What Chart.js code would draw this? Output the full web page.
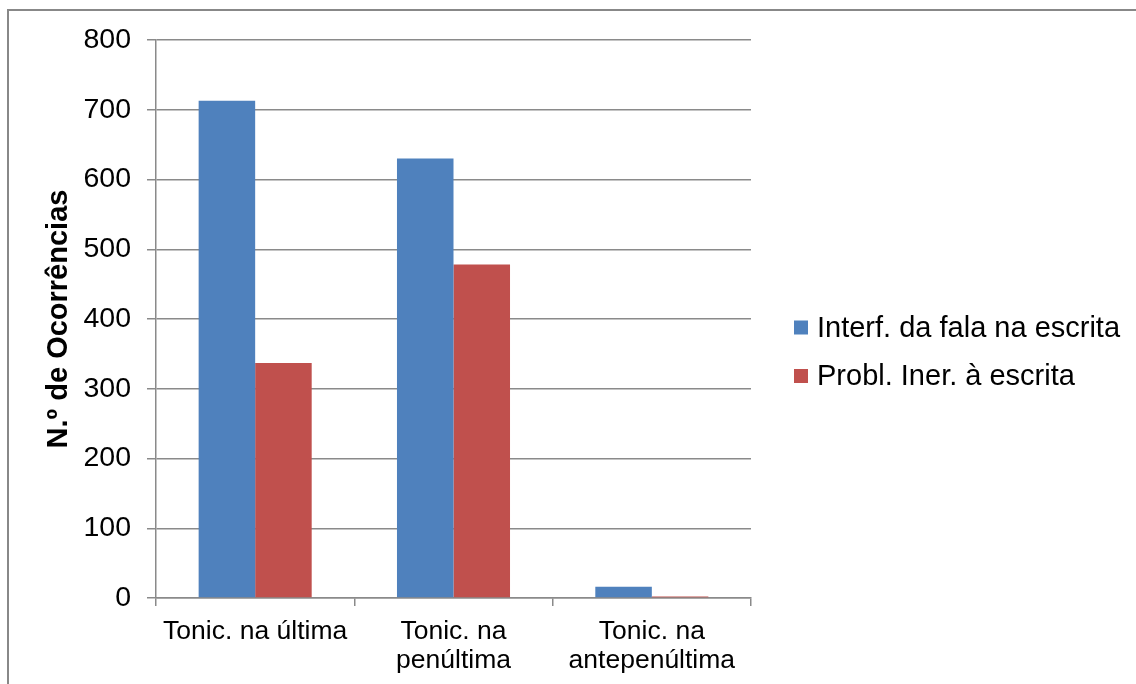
<!DOCTYPE html>
<html>
<head>
<meta charset="utf-8">
<title>Ocorrências por tonicidade</title>
<script src="https://cdn.jsdelivr.net/npm/chart.js@4.4.1/dist/chart.umd.min.js"></script>
<style>
  html, body { margin: 0; padding: 0; background: #ffffff; }
  #wrap { width: 1136px; height: 684px; position: relative; }
</style>
</head>
<body>
<div id="wrap"><canvas id="chart" width="1136" height="684"></canvas></div>
<script>
// Categories (multi-line labels are arrays)
const categories = ['Tonic. na última', ['Tonic. na', 'penúltima'], ['Tonic. na', 'antepenúltima']];

// Series
const seriesNames = ['Interf. da fala na escrita', 'Probl. Iner. à escrita'];
const interfFala = [713, 630, 16];
const problInerentes = [337, 478, 2];

// Value axis
const yMin = 0;
const yMax = 800;
const yStep = 100;
const yTitle = 'N.º de Ocorrências';

const FONT = "'Liberation Sans', Arial, sans-serif";
const GRID = '#8a8a8a';
const BLUE = '#4F81BD';
const RED = '#C0504D';

// Frame around the whole chart plus white background
const framePlugin = {
  id: 'frame',
  beforeDraw(chart) {
    const ctx = chart.ctx;
    ctx.save();
    ctx.fillStyle = '#ffffff';
    ctx.fillRect(0, 0, chart.width, chart.height);
    ctx.strokeStyle = '#888888';
    ctx.lineWidth = 2;
    ctx.beginPath();
    ctx.moveTo(8, chart.height);
    ctx.lineTo(8, 10);
    ctx.lineTo(chart.width, 10);
    ctx.stroke();
    ctx.restore();
  }
};

// Legend at the right of the plot, built from the dataset labels and colours
const sideLegend = {
  id: 'sideLegend',
  afterDraw(chart) {
    const ctx = chart.ctx;
    const area = chart.chartArea;
    const boxX = area.right + 43;
    const textX = boxX + 23;
    const firstY = 327.5;
    const pitch = 48.5;
    ctx.save();
    ctx.font = '29px ' + FONT;
    ctx.textBaseline = 'middle';
    ctx.textAlign = 'left';
    chart.data.datasets.forEach((ds, i) => {
      const cy = firstY + i * pitch;
      ctx.fillStyle = ds.backgroundColor;
      ctx.fillRect(boxX, cy - 7, 14, 14);
      ctx.fillStyle = '#000000';
      ctx.fillText(ds.label, textX, cy + 1);
    });
    ctx.restore();
  }
};

new Chart(document.getElementById('chart'), {
  type: 'bar',
  data: {
    labels: categories,
    datasets: [
      { label: seriesNames[0], data: interfFala, backgroundColor: BLUE },
      { label: seriesNames[1], data: problInerentes, backgroundColor: RED }
    ]
  },
  options: {
    responsive: false,
    animation: false,
    devicePixelRatio: 1,
    layout: { padding: { top: 40, right: 385, bottom: 0, left: 10 } },
    datasets: {
      bar: { categoryPercentage: 0.57, barPercentage: 1.0, borderWidth: 0 }
    },
    plugins: {
      legend: { display: false },
      tooltip: { enabled: false },
      title: { display: false }
    },
    scales: {
      x: {
        grid: {
          drawOnChartArea: false,
          drawTicks: true,
          tickLength: 8,
          color: GRID,
          lineWidth: 1.5,
          offset: true
        },
        border: { display: true, color: GRID, width: 1.5 },
        ticks: {
          color: '#000000',
          padding: 11,
          maxRotation: 0,
          autoSkip: false,
          font: { family: FONT, size: 26.5, lineHeight: 1.1 }
        },
        afterFit(scale) { scale.height = 86; }
      },
      y: {
        min: yMin,
        max: yMax,
        grid: {
          color: GRID,
          lineWidth: 1.5,
          drawTicks: true,
          tickLength: 9
        },
        border: { display: true, color: GRID, width: 1.5 },
        ticks: {
          stepSize: yStep,
          color: '#000000',
          padding: 16,
          font: { family: FONT, size: 28.5 }
        },
        title: {
          display: true,
          text: yTitle,
          color: '#000000',
          padding: { top: 32, bottom: 0 },
          font: { family: FONT, size: 29, weight: 'bold', lineHeight: 1.2 }
        },
        afterFit(scale) { scale.width = 146; }
      }
    }
  },
  plugins: [framePlugin, sideLegend]
});
</script>
</body>
</html>
